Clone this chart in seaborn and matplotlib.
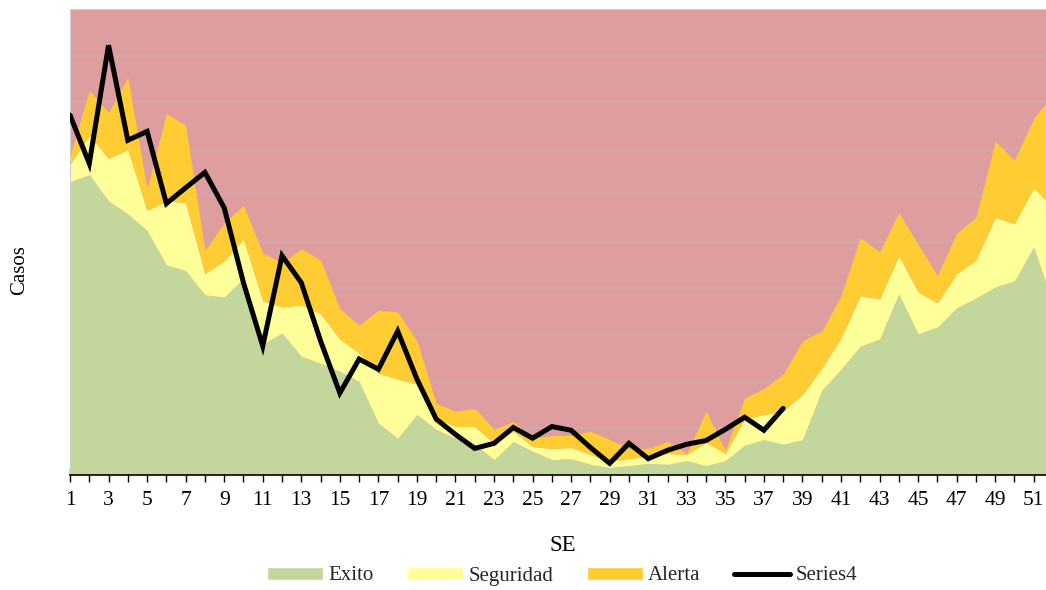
import numpy as np
import pandas as pd
import matplotlib
matplotlib.use("Agg")
import matplotlib.pyplot as plt
from matplotlib.patches import Patch
from matplotlib.lines import Line2D
import seaborn as sns

# Epidemiological weeks
semanas = list(range(1, 53))

# Endemic channel thresholds (cumulative upper limits of each zone)
exito = [62.9, 64.4, 58.8, 56.0, 52.4, 45.0, 43.8, 38.6, 38.1, 42.2,
         28.0, 30.4, 25.4, 23.9, 22.2, 20.0, 11.0, 7.8, 12.9, 9.7,
         7.8, 6.5, 3.2, 7.1, 5.0, 3.2, 3.4, 2.2, 1.5, 1.9,
         2.4, 2.2, 3.0, 1.9, 3.0, 6.3, 7.5, 6.5, 7.5, 18.1,
         22.6, 27.6, 29.1, 38.8, 30.2, 31.7, 35.8, 37.9, 40.3, 41.6,
         48.9, 36.5]
seguridad = [66.6, 72.8, 67.9, 69.8, 56.7, 58.8, 58.4, 43.1, 45.9, 50.6,
             37.3, 36.0, 36.4, 34.5, 29.1, 26.1, 21.8, 20.5, 19.4, 12.1,
             10.3, 10.3, 6.7, 9.3, 6.0, 5.6, 5.8, 4.3, 2.8, 3.4,
             3.9, 4.5, 4.3, 6.9, 4.5, 11.9, 12.9, 13.6, 17.2, 22.8,
             29.3, 38.4, 37.7, 47.0, 39.2, 36.9, 43.1, 46.1, 55.2, 53.9,
             61.6, 57.3]
alerta = [68.5, 82.5, 77.8, 85.3, 61.4, 77.6, 75.0, 48.1, 54.1, 57.8,
          47.6, 45.5, 48.5, 46.1, 35.6, 32.1, 35.3, 34.9, 28.7, 15.3,
          13.6, 14.2, 9.7, 11.4, 7.8, 8.4, 8.4, 9.3, 7.5, 5.6,
          5.6, 7.1, 4.5, 13.6, 5.2, 16.4, 18.5, 21.6, 28.7, 30.8,
          38.4, 50.9, 47.8, 56.3, 49.4, 42.7, 51.9, 55.2, 71.6, 67.5,
          76.5, 81.7]

# Observed cases for the current year (weeks 1-38)
series4 = [77.2, 66.8, 92.2, 71.8, 73.7, 58.2, 61.6, 64.9, 57.3, 41.2,
           27.6, 47.0, 41.2, 28.7, 17.5, 24.8, 22.6, 30.8, 20.5, 11.9,
           8.6, 5.6, 6.7, 10.1, 7.8, 10.3, 9.5, 5.8, 2.4, 6.7,
           3.4, 5.2, 6.5, 7.3, 9.7, 12.3, 9.5, 14.2]

tick_labels = [str(w) if w % 2 == 1 else "" for w in semanas]

canal = pd.DataFrame({"SE": semanas, "Exito": exito,
                      "Seguridad": seguridad, "Alerta": alerta})
casos = pd.DataFrame({"SE": semanas[:len(series4)], "Series4": series4})

C_EXITO = "#C3D69B"
C_SEG = "#FFFF99"
C_ALERTA = "#FFCC33"
C_EPIDEMIA = "#DE9D9E"
C_GRID = "#CFADAD"

sns.set_theme(style="white")
plt.rcParams["font.family"] = ["Liberation Serif", "DejaVu Serif"]

fig = plt.figure(figsize=(10.46, 5.90), dpi=100)
W, H = 1046.0, 590.0
x0, x1, ytop, ybot = 70.0, 1053.0, 9.0, 474.5
ax = fig.add_axes([x0 / W, 1 - ybot / H, (x1 - x0) / W, (ybot - ytop) / H])

ymax = 100
ax.set_facecolor(C_EPIDEMIA)
ax.set_axisbelow(True)
ax.set_yticks(np.arange(0, ymax + 1, 10))
ax.yaxis.grid(True, color=C_GRID, linewidth=1.1)
ax.xaxis.grid(False)

ax.fill_between(canal["SE"], 0, canal["Exito"], color=C_EXITO, lw=0, zorder=2)
ax.fill_between(canal["SE"], canal["Exito"], canal["Seguridad"], color=C_SEG, lw=0, zorder=2)
ax.fill_between(canal["SE"], canal["Seguridad"], canal["Alerta"], color=C_ALERTA, lw=0, zorder=2)

sns.lineplot(data=casos, x="SE", y="Series4", ax=ax, color="black", lw=3.6,
             solid_joinstyle="miter", solid_capstyle="round", zorder=5,
             legend=False)

ax.set_xlim(1, 52)
ax.set_ylim(0, ymax)
ax.set_xticks(semanas)
ax.set_xticklabels(tick_labels)
ax.tick_params(axis="x", direction="inout", length=10, width=1, color="black",
               labelsize=15.5, pad=7, bottom=True, labelcolor="black")
ax.tick_params(axis="y", left=False, labelleft=False)

for side in ["left", "top"]:
    ax.spines[side].set_color("#D0D0D0")
    ax.spines[side].set_linewidth(0.8)
ax.spines["right"].set_visible(False)
ax.spines["bottom"].set_color("black")
ax.spines["bottom"].set_linewidth(1.2)
ax.spines["bottom"].set_zorder(6)

ax.set_xlabel("SE", fontsize=16.5, color="black")
ax.xaxis.set_label_coords((563 - x0) / (x1 - x0), (ybot - 535) / (ybot - ytop))
ax.set_ylabel("Casos", fontsize=15, color="black")
ax.yaxis.set_label_coords((29 - x0) / (x1 - x0), (ybot - 270) / (ybot - ytop))

handles = [Patch(facecolor=C_EXITO, label="Exito"),
           Patch(facecolor=C_SEG, label="Seguridad"),
           Patch(facecolor=C_ALERTA, label="Alerta"),
           Line2D([0], [0], color="black", lw=3.6, solid_capstyle="round",
                  label="Series4")]
fig.legend(handles=handles, loc="center", ncol=4, frameon=False,
           bbox_to_anchor=(562 / W, 1 - 576 / H), fontsize=15,
           handlelength=2.7, handleheight=0.6, handletextpad=0.25,
           columnspacing=1.6)

fig.savefig("out.png", dpi=100)
